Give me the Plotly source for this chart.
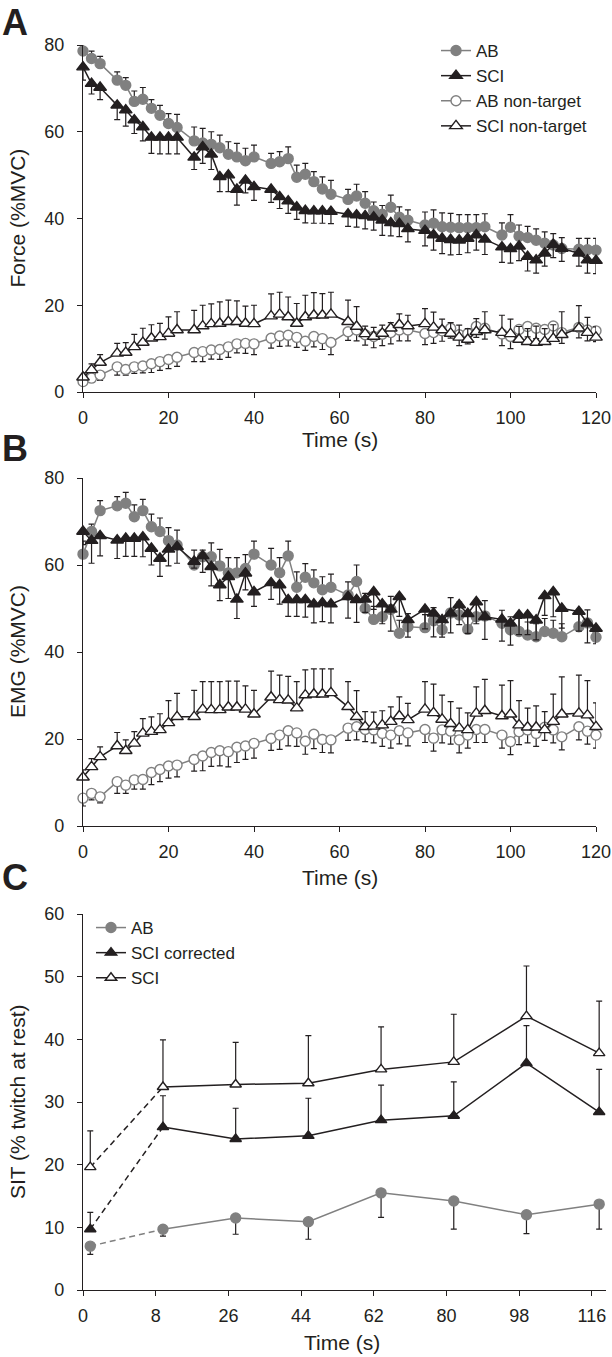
import plotly.graph_objects as go

# ---------------- DATA ----------------
TIME = [0, 2, 4,
        8, 10, 12, 14, 16, 18, 20, 22,
        26, 28, 30, 32, 34, 36, 38, 40,
        44, 46, 48, 50, 52, 54, 56, 58,
        62, 64, 66, 68, 70, 72, 74, 76,
        80, 82, 84, 86, 88, 90, 92, 94,
        98, 100, 102, 104, 106, 108, 110, 112,
        116, 118, 120]

# Panel A: Force (%MVC)
force_ab = [78.6, 76.9, 75.7,
            71.9, 70.7, 67.0, 67.5, 65.4, 63.8, 61.9, 61.0,
            57.9, 57.4, 57.1, 56.3, 54.8, 54.2, 53.3, 54.2,
            52.7, 53.1, 53.8, 49.5, 50.2, 48.5, 46.8, 45.6,
            44.4, 45.2, 43.5, 41.8, 41.0, 42.6, 40.3, 39.6,
            38.5, 38.9, 38.1, 38.0, 37.9, 37.9, 37.9, 38.1,
            36.2, 38.0, 35.9, 35.6, 35.0, 34.3, 33.9, 33.1,
            32.9, 32.8, 32.7]
force_ab_err = [2.3, 1.7, 1.7,
                1.9, 1.8, 2.4, 2.7, 2.0, 2.3, 2.3, 3.0,
                3.2, 3.4, 2.9, 2.9, 2.9, 3.1, 2.9, 2.7,
                2.3, 2.3, 2.7, 2.8, 2.5, 2.3, 2.8, 3.2,
                2.3, 2.7, 2.7, 2.0, 2.0, 2.8, 2.4, 2.4,
                3.0, 3.1, 3.2, 3.2, 3.0, 3.0, 3.0, 3.0,
                2.8, 2.9, 2.6, 2.6, 2.6, 2.6, 2.6, 2.5,
                2.5, 2.6, 2.7]
force_sci = [74.9, 71.1, 70.2,
             66.1, 65.0, 62.7, 61.1, 58.7, 58.7, 58.7, 58.7,
             54.1, 56.5, 54.8, 49.6, 50.0, 46.7, 48.8, 47.3,
             46.7, 45.0, 44.0, 42.6, 41.8, 41.7, 41.7, 41.6,
             41.0, 40.8, 40.6, 40.3, 39.6, 39.0, 38.8, 37.6,
             37.2, 36.2, 35.4, 35.1, 35.0, 35.4, 36.2, 35.2,
             33.4, 33.0, 33.6, 31.2, 30.4, 32.0, 34.0, 33.1,
             32.0, 30.4, 30.3]
force_sci_err = [3.0, 2.4, 2.8,
                 3.3, 3.7, 3.1, 3.2, 3.7, 3.8, 3.8, 3.8,
                 2.8, 3.8, 3.5, 3.4, 3.8, 3.6, 2.9, 3.1,
                 3.0, 2.7, 2.8, 2.8, 2.8, 2.8, 2.8, 2.8,
                 2.8, 2.8, 3.0, 3.0, 3.5, 3.0, 3.0, 3.0,
                 3.5, 3.5, 3.5, 3.5, 3.3, 3.3, 3.5, 3.5,
                 3.5, 3.3, 3.3, 3.3, 3.0, 3.0, 3.0, 3.0,
                 3.0, 3.0, 3.0]
force_abnt = [2.4, 3.2, 3.9,
              5.8, 5.2, 5.8, 6.0, 6.5, 7.0, 7.5, 8.0,
              9.1, 9.3, 9.7, 9.8, 10.4, 11.1, 11.2, 11.1,
              12.4, 12.9, 13.1, 12.6, 11.7, 12.8, 12.3, 11.4,
              13.9, 14.3, 13.2, 12.8, 13.3, 13.7, 14.3, 14.3,
              13.5, 13.7, 14.1, 14.7, 13.2, 13.5, 15.1, 14.7,
              13.4, 12.8, 14.4, 15.1, 14.7, 14.4, 15.2, 13.7,
              14.9, 14.3, 14.1]
force_abnt_err = [0.8, 1.0, 1.2,
                  1.9, 1.3, 1.5, 1.6, 2.0, 2.0, 2.1, 2.1,
                  2.1, 2.3, 2.1, 2.3, 2.4, 2.1, 2.3, 2.5,
                  2.3, 2.4, 2.5, 2.3, 2.1, 2.4, 2.5, 2.8,
                  2.0, 2.5, 2.4, 2.6, 2.6, 2.6, 2.5, 2.5,
                  2.6, 2.5, 2.4, 2.3, 2.5, 2.4, 2.5, 2.5,
                  2.7, 2.8, 2.5, 2.4, 2.4, 2.5, 2.4, 2.5,
                  2.4, 2.5, 2.5]
force_scint = [3.4, 5.1, 6.8,
               8.9, 9.1, 10.4, 11.4, 12.4, 12.7, 13.5, 14.3,
               14.3, 15.2, 15.7, 15.8, 16.2, 16.2, 15.8, 15.7,
               17.5, 17.9, 17.3, 15.8, 17.3, 17.7, 17.7, 17.9,
               16.2, 15.1, 13.4, 12.8, 13.5, 14.7, 15.5, 15.2,
               15.7, 14.9, 14.3, 13.5, 12.6, 12.1, 13.9, 14.3,
               13.7, 13.4, 12.1, 11.6, 11.4, 11.6, 12.3, 13.2,
               14.7, 13.7, 12.6]
force_scint_err = [1.0, 1.4, 1.8,
                   2.3, 2.3, 2.9, 3.3, 3.1, 3.1, 3.8, 4.2,
                   4.5, 4.8, 4.6, 5.0, 5.0, 4.8, 4.0, 4.3,
                   5.1, 5.1, 4.6, 4.6, 5.0, 5.2, 5.0, 5.1,
                   5.0, 4.6, 1.8, 2.1, 1.9, 1.3, 2.5, 2.5,
                   3.5, 3.5, 2.5, 2.5, 2.8, 2.5, 3.0, 4.2,
                   4.0, 3.4, 3.0, 3.0, 3.8, 3.0, 3.2, 5.3,
                   5.2, 3.5, 2.4]

# Panel B: EMG (%MVC)
emg_ab = [62.5, 67.7, 72.5,
          73.6, 74.2, 71.1, 72.5, 68.8, 67.7, 65.6, 64.6,
          60.0, 61.9, 61.9, 59.8, 58.2, 58.2, 59.2, 62.5,
          60.0, 58.2, 62.1, 54.9, 57.2, 55.9, 54.3, 54.9,
          53.1, 56.2, 50.0, 47.5, 48.1, 49.8, 44.3, 45.8,
          45.6, 47.2, 45.1, 49.0, 48.5, 45.2, 48.1, 48.3,
          46.6, 45.1, 44.7, 43.9, 43.5, 44.7, 44.3, 43.5,
          45.8, 46.7, 43.4]
emg_ab_err = [3.0, 1.7, 2.3,
              2.1, 2.5, 2.7, 2.6, 2.9, 3.1, 3.0, 3.4,
              3.4, 1.5, 3.2, 3.8, 3.5, 3.5, 3.2, 3.0,
              3.8, 3.5, 3.4, 3.5, 3.1, 3.0, 3.0, 3.0,
              3.0, 3.8, 3.5, 3.0, 3.0, 3.0, 3.0, 3.0,
              3.0, 3.0, 3.0, 3.5, 3.0, 3.0, 3.5, 3.5,
              3.0, 3.0, 3.0, 3.0, 3.0, 3.0, 3.0, 3.0,
              3.0, 3.0, 1.8]
emg_sci = [67.7, 65.6, 66.7,
           65.7, 66.1, 66.1, 66.4, 63.8, 61.5, 63.6, 64.2,
           60.8, 62.1, 59.6, 55.4, 57.3, 52.1, 58.1, 53.8,
           55.9, 55.4, 52.0, 52.0, 52.0, 51.0, 51.3, 51.0,
           52.7, 52.0, 52.1, 53.8, 51.0, 49.8, 52.7, 47.4,
           49.8, 48.9, 47.4, 48.9, 50.8, 48.8, 51.5, 48.1,
           47.5, 46.6, 48.5, 48.5, 47.3, 52.9, 53.8, 50.0,
           49.3, 46.6, 45.4]
emg_sci_err = [3.0, 5.2, 4.6,
               4.2, 4.1, 4.1, 4.5, 3.8, 4.1, 3.8, 3.8,
               1.5, 3.8, 4.4, 3.6, 5.0, 4.4, 3.8, 3.3,
               3.8, 4.4, 3.8, 3.8, 4.0, 4.3, 4.3, 4.3,
               4.9, 5.2, 3.0, 4.0, 4.5, 5.0, 4.5, 4.0,
               4.5, 5.4, 4.0, 4.5, 4.5, 4.5, 5.0, 5.2,
               5.0, 5.0, 4.5, 4.5, 4.5, 4.5, 5.7, 4.5,
               4.5, 4.5, 3.5]
emg_abnt = [6.4, 7.5, 6.7,
            10.2, 9.4, 10.6, 10.7, 12.3, 13.0, 13.8, 14.0,
            15.3, 16.1, 16.9, 17.3, 17.1, 18.1, 18.4, 19.0,
            20.1, 20.9, 21.9, 21.4, 19.5, 21.1, 19.9, 19.8,
            22.5, 22.8, 22.2, 22.1, 21.3, 20.9, 21.9, 21.4,
            22.2, 20.2, 22.1, 21.8, 19.8, 20.9, 22.2, 22.2,
            20.9, 19.4, 21.7, 22.1, 21.3, 22.7, 22.1, 20.5,
            22.8, 21.8, 20.9]
emg_abnt_err = [1.8, 1.5, 1.4,
                2.7, 1.9, 2.1, 2.2, 2.8, 2.8, 2.8, 2.7,
                2.7, 3.4, 3.2, 3.5, 3.5, 3.5, 3.1, 3.4,
                2.7, 3.3, 3.5, 3.1, 3.0, 3.3, 3.0, 3.0,
                2.8, 3.0, 2.8, 3.0, 3.0, 3.0, 3.0, 3.0,
                3.0, 3.0, 3.0, 3.0, 3.0, 3.0, 3.0, 3.0,
                3.0, 3.0, 3.0, 3.0, 3.0, 3.0, 3.0, 3.0,
                3.0, 3.0, 3.0]
emg_scint = [11.2, 13.6, 15.9,
             18.4, 17.3, 19.0, 21.3, 21.7, 22.1, 23.7, 25.1,
             25.1, 26.8, 26.7, 26.7, 27.3, 27.3, 26.8, 25.7,
             29.6, 29.0, 28.9, 27.1, 30.1, 30.3, 30.3, 30.6,
             27.4, 25.1, 22.8, 22.9, 23.2, 24.0, 25.3, 24.4,
             26.8, 26.0, 24.5, 23.5, 22.5, 22.1, 25.9, 26.5,
             25.3, 25.7, 23.2, 22.7, 22.7, 22.1, 24.0, 25.7,
             25.9, 25.5, 22.8]
emg_scint_err = [1.7, 1.9, 2.3,
                 3.1, 2.5, 2.7, 3.4, 3.4, 3.7, 5.1, 5.4,
                 6.1, 6.4, 6.5, 6.5, 6.0, 6.0, 5.4, 5.5,
                 6.0, 5.7, 5.5, 6.1, 5.8, 5.8, 5.8, 5.5,
                 5.8, 6.0, 3.5, 3.3, 3.3, 3.4, 4.4, 3.8,
                 6.4, 6.6, 5.6, 5.1, 4.6, 3.9, 6.1, 7.2,
                 7.1, 7.7, 5.6, 4.4, 4.9, 4.2, 6.3, 8.6,
                 8.8, 7.9, 5.5]

# Panel C: SIT (% twitch at rest)
SIT_LABELS = ["0", "8", "26", "44", "62", "80", "98", "116"]
sit_ab = [7.0, 9.7, 11.5, 10.9, 15.5, 14.2, 12.0, 13.7]
sit_ab_err = [1.3, 1.1, 2.6, 2.8, 3.9, 4.5, 3.0, 4.0]
sit_scic = [9.7, 26.0, 24.1, 24.6, 27.1, 27.8, 36.2, 28.4]
sit_scic_err = [2.7, 5.0, 4.9, 6.0, 5.6, 5.4, 6.0, 6.8]
sit_sci = [19.6, 32.4, 32.8, 33.0, 35.2, 36.4, 43.7, 37.8]
sit_sci_err = [5.8, 7.5, 6.7, 7.6, 6.8, 7.6, 8.0, 8.3]

# ---------------- STYLE ----------------
W, H = 612, 1357
INK = "#231f20"
GRAY = "#808080"
FONT = "Liberation Sans, Arial, Helvetica, sans-serif"


def fx(p):
    return p / W


def fy(p):
    return 1 - p / H


def err(vals, up=True):
    zeros = [0] * len(vals)
    return dict(type="data", symmetric=False,
                array=vals if up else zeros,
                arrayminus=zeros if up else vals,
                color=INK, thickness=1.2, width=3)


fig = go.Figure()


def series(x, y, e, up, name, symbol, fill, line_color, xa, ya,
           legend=None, showlegend=False, rank=None, size=10, mode="lines+markers", dash=None):
    fig.add_trace(go.Scatter(
        x=x, y=y, mode=mode, name=name,
        xaxis=xa, yaxis=ya,
        line=dict(color=line_color, width=1.5, dash=dash),
        marker=dict(symbol=symbol, size=size, color=fill,
                    line=dict(color=line_color, width=1.4)),
        error_y=err(e, up) if e is not None else None,
        showlegend=showlegend, legend=legend, legendrank=rank,
        cliponaxis=False, hoverinfo="skip",
    ))


# Panel A
series(TIME, force_abnt, force_abnt_err, False, "AB non-target", "circle", "white", GRAY,
       "x", "y", "legend", True, 3)
series(TIME, force_scint, force_scint_err, True, "SCI non-target", "triangle-up", "white", INK,
       "x", "y", "legend", True, 4, size=11)
series(TIME, force_ab, force_ab_err, True, "AB", "circle", GRAY, GRAY,
       "x", "y", "legend", True, 1)
series(TIME, force_sci, force_sci_err, False, "SCI", "triangle-up", INK, INK,
       "x", "y", "legend", True, 2, size=11)

# Panel B
series(TIME, emg_abnt, emg_abnt_err, False, "AB non-target", "circle", "white", GRAY, "x2", "y2")
series(TIME, emg_scint, emg_scint_err, True, "SCI non-target", "triangle-up", "white", INK, "x2", "y2", size=11)
series(TIME, emg_ab, emg_ab_err, True, "AB", "circle", GRAY, GRAY, "x2", "y2")
series(TIME, emg_sci, emg_sci_err, False, "SCI", "triangle-up", INK, INK, "x2", "y2", size=11)

# Panel C (first interval dashed)
IDX = list(range(len(SIT_LABELS)))
for y, e, up, name, sym, fill, col, rank in [
    (sit_ab, sit_ab_err, False, "AB", "circle", GRAY, GRAY, 1),
    (sit_scic, sit_scic_err, True, "SCI corrected", "triangle-up", INK, INK, 2),
    (sit_sci, sit_sci_err, True, "SCI", "triangle-up", "white", INK, 3),
]:
    series(IDX[:2], y[:2], None, up, name, sym, fill, col, "x3", "y3", mode="lines", dash="6px,4px")
    series(IDX[:1], y[:1], e[:1], up, name, sym, fill, col, "x3", "y3", mode="markers")
    series(IDX[1:], y[1:], e[1:], up, name, sym, fill, col, "x3", "y3",
           legend="legend2", showlegend=True, rank=rank)

axis_common = dict(showline=True, linecolor=INK, linewidth=1.3, ticks="outside",
                   ticklen=5, tickwidth=1.3, tickcolor=INK, showgrid=False, zeroline=False,
                   automargin=False,
                   tickfont=dict(size=18, color=INK, family=FONT))
xax = dict(ticklabelstandoff=4, **axis_common)
yax = dict(ticklabelstandoff=9, **axis_common)

fig.update_layout(
    template="none",
    width=W, height=H, autosize=False,
    margin=dict(l=0, r=0, t=0, b=0, pad=0, autoexpand=False),
    paper_bgcolor="white", plot_bgcolor="white",
    font=dict(family=FONT, color=INK),
    xaxis=dict(domain=[fx(83), fx(596)], range=[0, 120], tickvals=[0, 20, 40, 60, 80, 100, 120],
               anchor="y", **xax),
    yaxis=dict(domain=[fy(392), fy(45)], range=[0, 80], tickvals=[0, 20, 40, 60, 80],
               anchor="x", **yax),
    xaxis2=dict(domain=[fx(83), fx(596)], range=[0, 120], tickvals=[0, 20, 40, 60, 80, 100, 120],
                anchor="y2", **xax),
    yaxis2=dict(domain=[fy(826), fy(478)], range=[0, 80], tickvals=[0, 20, 40, 60, 80],
                anchor="x2", **yax),
    xaxis3=dict(domain=[fx(83), fx(606)], range=[-0.1, 7.094],
                tickvals=[i - 0.1 for i in IDX], ticktext=SIT_LABELS,
                anchor="y3", **xax),
    yaxis3=dict(domain=[fy(1290), fy(914)], range=[0, 60], tickvals=[0, 10, 20, 30, 40, 50, 60],
                anchor="x3", **yax),
    legend=dict(x=fx(436), y=fy(33), xanchor="left", yanchor="top",
                font=dict(size=17, color=INK, family=FONT), bgcolor="rgba(0,0,0,0)",
                tracegroupgap=0, itemwidth=30),
    legend2=dict(x=fx(91), y=fy(910), xanchor="left", yanchor="top",
                 font=dict(size=17, color=INK, family=FONT), bgcolor="rgba(0,0,0,0)",
                 tracegroupgap=0, itemwidth=30),
    showlegend=True,
)

annotations = []
for letter, ypx in [("A", 22), ("B", 448), ("C", 878)]:
    annotations.append(dict(text=f"<b>{letter}</b>", x=fx(0), y=fy(ypx), xref="paper", yref="paper",
                            xanchor="left", yanchor="middle", showarrow=False,
                            font=dict(size=36, color=INK, family=FONT)))
for title, ycen in [("Force (%MVC)", 218.5), ("EMG (%MVC)", 652), ("SIT (% twitch at rest)", 1102)]:
    annotations.append(dict(text=title, x=fx(17), y=fy(ycen), xref="paper", yref="paper",
                            xanchor="center", yanchor="middle", textangle=-90, showarrow=False,
                            font=dict(size=21, color=INK, family=FONT)))
for ycen, xc in [(440, 340), (878, 340), (1342, 342)]:
    annotations.append(dict(text="Time (s)", x=fx(xc), y=fy(ycen), xref="paper", yref="paper",
                            xanchor="center", yanchor="middle", showarrow=False,
                            font=dict(size=21, color=INK, family=FONT)))
fig.update_layout(annotations=annotations)

fig.write_html("out.html", config={"displayModeBar": False},
               post_script="document.body.style.margin='0';document.body.style.overflow='hidden';")
